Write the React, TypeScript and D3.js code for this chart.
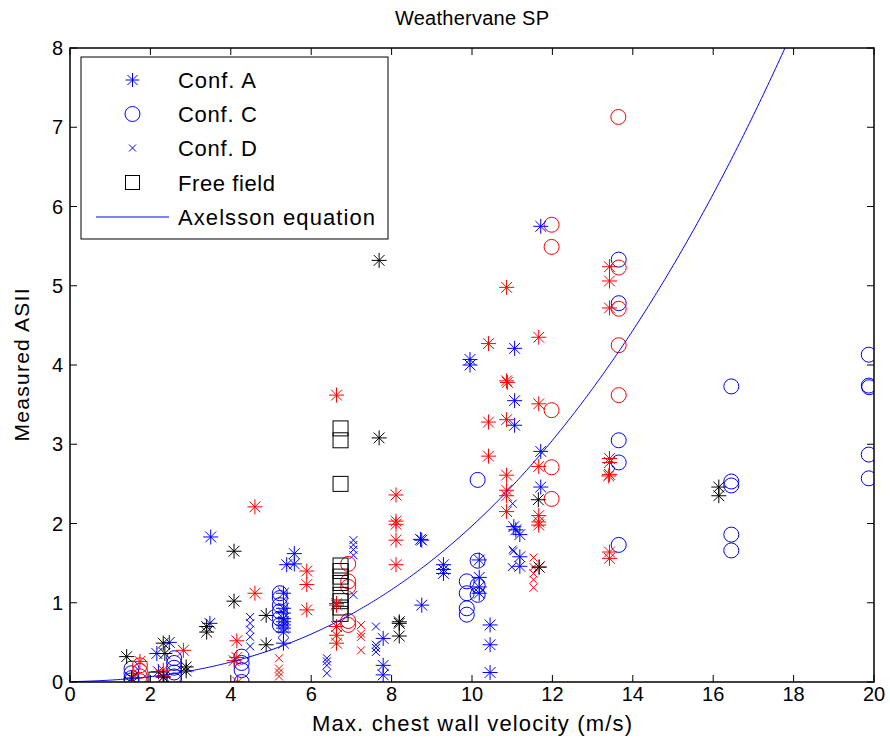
import React from "react";
import * as d3 from "d3";

type Pt = [number, number];

// Axes ticks
const xTickValues = [0, 2, 4, 6, 8, 10, 12, 14, 16, 18, 20];
const yTickValues = [0, 1, 2, 3, 4, 5, 6, 7, 8];

// Conf. A (asterisks), by colour
const confABlue: Pt[] = [
  [11.71, 5.75], [11.06, 4.21], [9.95, 4.07], [9.95, 4.0], [11.06, 3.55], [11.06, 3.24],
  [11.71, 2.91], [11.71, 2.46], [3.5, 1.83], [5.39, 1.48], [5.58, 1.62], [5.58, 1.49],
  [3.48, 0.74], [5.31, 0.49], [2.47, 0.5], [2.16, 0.36], [2.2, 0.13],
  [5.31, 1.12], [5.31, 0.93], [5.31, 0.87], [5.31, 0.8], [5.31, 0.76], [5.31, 0.72], [5.31, 0.68], [5.31, 0.63],
  [8.75, 1.79], [8.72, 1.8], [9.29, 1.48], [9.29, 1.42], [9.29, 1.37],
  [7.79, 0.55], [7.79, 0.21], [7.79, 0.09], [8.75, 0.97],
  [11.04, 1.96], [11.09, 1.92], [11.19, 1.86], [11.19, 1.58], [11.19, 1.46],
  [10.18, 1.54], [10.18, 1.32], [10.18, 1.2], [10.18, 1.12],
  [10.45, 0.72], [10.45, 0.47], [10.45, 0.12],
];
const confARed: Pt[] = [
  [10.86, 4.98], [13.42, 5.24], [13.42, 5.06], [13.42, 4.72], [11.66, 4.35], [10.41, 4.27],
  [10.86, 3.8], [10.88, 3.78], [11.66, 3.51], [10.41, 3.28], [10.86, 3.31], [10.41, 2.85],
  [13.42, 2.82], [13.42, 2.77], [13.42, 2.62], [13.4, 2.6], [11.66, 2.72], [10.86, 2.61],
  [10.86, 2.42], [10.86, 2.35], [10.86, 2.15], [11.66, 2.1], [11.66, 2.02], [11.66, 1.98],
  [8.11, 2.36], [8.11, 2.03], [8.11, 1.99], [8.11, 1.79], [8.11, 1.48],
  [13.42, 1.64], [13.42, 1.56], [11.67, 1.45],
  [6.63, 3.62], [4.6, 2.21], [5.89, 1.4], [5.89, 1.23], [5.89, 0.91], [4.6, 1.12],
  [4.15, 0.52], [4.15, 0.31], [4.08, 0.27], [4.17, 0.0],
  [6.63, 0.99], [6.63, 0.97], [6.63, 0.7], [6.63, 0.59], [6.63, 0.49],
  [1.74, 0.26], [2.82, 0.4], [2.32, 0.15], [2.32, 0.07],
];
const confABlack: Pt[] = [
  [7.69, 5.32], [7.69, 3.08], [16.14, 2.46], [16.14, 2.35], [11.65, 2.3], [11.67, 1.45],
  [4.08, 1.65], [4.08, 1.02], [4.88, 0.84], [4.88, 0.47], [3.4, 0.7], [3.4, 0.63],
  [8.19, 0.76], [8.19, 0.74], [8.19, 0.58], [1.41, 0.32], [1.53, 0.05],
  [2.32, 0.49], [2.36, 0.36], [2.32, 0.06], [2.89, 0.19], [2.89, 0.14],
];

// Conf. C (circles)
const confCBlue: Pt[] = [
  [13.65, 5.33], [13.65, 4.78], [13.65, 3.05], [13.65, 2.77], [13.65, 1.73], [10.14, 2.55],
  [19.87, 4.13], [19.87, 3.74], [19.88, 3.72], [16.45, 3.73], [19.87, 2.87], [19.87, 2.57],
  [16.45, 2.53], [16.45, 2.48], [16.45, 1.86], [16.45, 1.66],
  [9.87, 1.27], [9.87, 1.12], [9.87, 0.93], [9.87, 0.85], [10.14, 1.53], [10.14, 1.22], [10.14, 1.1],
  [5.22, 1.12], [5.22, 1.06], [5.22, 0.97], [5.22, 0.89], [5.22, 0.8], [5.22, 0.72],
  [4.27, 0.32], [4.27, 0.24], [4.27, 0.15], [4.27, 0.0],
  [1.53, 0.17], [1.53, 0.11], [1.53, 0.05], [1.53, 0.02],
  [2.59, 0.3], [2.59, 0.24], [2.59, 0.18], [2.59, 0.12], [2.59, 0.07], [2.59, 0.02],
];
const confCRed: Pt[] = [
  [13.64, 7.13], [11.98, 5.77], [11.98, 5.49], [13.65, 5.23], [13.65, 4.71], [13.65, 4.25],
  [13.65, 3.62], [11.98, 3.43], [11.98, 2.71], [11.98, 2.31],
  [6.92, 1.49], [6.92, 1.27], [6.92, 1.2], [6.92, 0.77], [6.92, 0.72],
  [1.74, 0.21], [1.74, 0.14], [1.74, 0.07], [1.74, 0.01],
];

// Conf. D (crosses)
const confDBlue: Pt[] = [
  [11.01, 2.25], [11.01, 1.67], [11.03, 1.65], [10.99, 1.45],
  [4.48, 0.82], [4.48, 0.74], [4.48, 0.66], [4.48, 0.57], [4.48, 0.45],
  [6.39, 0.3], [6.39, 0.26], [6.39, 0.21], [6.39, 0.11],
  [7.05, 1.79], [7.05, 1.73], [7.05, 1.67], [7.05, 1.6], [7.05, 1.1],
  [7.61, 0.7], [7.61, 0.47], [7.61, 0.43], [7.61, 0.38],
];
const confDRed: Pt[] = [
  [5.2, 0.3], [5.2, 0.17], [5.2, 0.12], [5.2, 0.07],
  [7.24, 0.72], [7.24, 0.61], [7.24, 0.57], [7.24, 0.4],
  [11.53, 1.57], [11.53, 1.45], [11.53, 1.37], [11.53, 1.29], [11.53, 1.19],
];

// Free field (squares)
const freeField: Pt[] = [
  [6.73, 3.2], [6.73, 3.05], [6.73, 2.5], [6.73, 1.47], [6.73, 1.4], [6.73, 1.33],
  [6.73, 1.25], [6.73, 1.1], [6.73, 1.02], [6.73, 0.94], [6.73, 0.86], [2.15, 0.03],
];

// Legend entries and their text widths
const legendLabels = ["Conf. A", "Conf. C", "Conf. D", "Free field", "Axelsson equation"];
const legendWidths = [78, 79, 79, 97, 197];

// Axelsson equation: ASII = (0.124 + 0.117 V)^2.63
const axelssonV = d3.range(0, 18.01, 0.05);
const axelsson = (v: number) => Math.pow(0.124 + 0.117 * v, 2.63);

const BLUE = "#0000ff";
const RED = "#ff0000";
const BLACK = "#000000";
const FONT = "'Liberation Sans', Arial, Helvetica, sans-serif";

const starPath = (cx: number, cy: number, r = 7.5) => {
  const d = r * 0.72;
  return `M${cx - r},${cy}H${cx + r}M${cx},${cy - r}V${cy + r}M${cx - d},${cy - d}L${cx + d},${cy + d}M${cx - d},${cy + d}L${cx + d},${cy - d}`;
};
const crossPath = (cx: number, cy: number, r = 4) =>
  `M${cx - r},${cy - r}L${cx + r},${cy + r}M${cx - r},${cy + r}L${cx + r},${cy - r}`;

export default function App() {
  const left = 70, right = 874, top = 48, bottom = 682;
  const x = d3.scaleLinear().domain([0, 20]).range([left, right]);
  const y = d3.scaleLinear().domain([0, 8]).range([bottom, top]);

  const line = d3
    .line<number>()
    .x((v) => x(v))
    .y((v) => y(axelsson(v)));

  const stars = (pts: Pt[], color: string, key: string) => (
    <path key={key} d={pts.map(([a, b]) => starPath(x(a), y(b))).join("")} stroke={color} strokeWidth={1} fill="none" />
  );
  const circles = (pts: Pt[], color: string, key: string) => (
    <g key={key}>
      {pts.map(([a, b], i) => (
        <circle key={i} cx={x(a)} cy={y(b)} r={7.5} stroke={color} strokeWidth={1} fill="none" />
      ))}
    </g>
  );
  const crosses = (pts: Pt[], color: string, key: string) => (
    <path key={key} d={pts.map(([a, b]) => crossPath(x(a), y(b))).join("")} stroke={color} strokeWidth={1} fill="none" />
  );
  const squares = (pts: Pt[], color: string, key: string) => (
    <g key={key}>
      {pts.map(([a, b], i) => (
        <rect key={i} x={x(a) - 7.5} y={y(b) - 7.5} width={15} height={15} stroke={color} strokeWidth={1} fill="none" />
      ))}
    </g>
  );

  const tickLen = 7;
  const legendX = 81, legendY = 57, legendW = 307, legendH = 182;
  const rowY = [80, 114, 148, 182.5, 217];
  const mx = 132.5, tx = 178;

  return (
    <svg width={890} height={751} style={{ position: "absolute", left: 0, top: 0, background: "#fff" }} fontFamily={FONT}>
      <rect x={0} y={0} width={890} height={751} fill="#fff" />
      <defs>
        <clipPath id="plotClip">
          <rect x={left} y={top} width={right - left} height={bottom - top} />
        </clipPath>
      </defs>

      {/* ticks on all four sides */}
      <g stroke="#000" strokeWidth={1}>
        {xTickValues.map((t) => (
          <g key={`xt${t}`}>
            <line x1={x(t)} x2={x(t)} y1={bottom} y2={bottom - tickLen} />
            <line x1={x(t)} x2={x(t)} y1={top} y2={top + tickLen} />
          </g>
        ))}
        {yTickValues.map((t) => (
          <g key={`yt${t}`}>
            <line x1={left} x2={left + tickLen} y1={y(t)} y2={y(t)} />
            <line x1={right} x2={right - tickLen} y1={y(t)} y2={y(t)} />
          </g>
        ))}
      </g>

      {/* data */}
      <g clipPath="url(#plotClip)">
        {crosses(confDBlue, BLUE, "db")}
        {crosses(confDRed, RED, "dr")}
        {circles(confCBlue, BLUE, "cb")}
        {circles(confCRed, RED, "cr")}
        {squares(freeField, BLACK, "ff")}
        {stars(confABlue, BLUE, "ab")}
        {stars(confARed, RED, "ar")}
        {stars(confABlack, BLACK, "ak")}
        <path d={line(axelssonV) ?? ""} stroke={BLUE} strokeWidth={1} fill="none" />
      </g>

      {/* axes box */}
      <rect x={left} y={top} width={right - left} height={bottom - top} fill="none" stroke="#000" strokeWidth={1.5} />

      {/* tick labels */}
      <g fontSize={20} fill="#000">
        {xTickValues.map((t) => (
          <text key={`xl${t}`} x={x(t)} y={bottom + 19} textAnchor="middle">{t}</text>
        ))}
        {yTickValues.map((t) => (
          <text key={`yl${t}`} x={left - 7} y={y(t) + 7} textAnchor="end">{t}</text>
        ))}
      </g>

      {/* titles */}
      <text x={(left + right) / 2} y={25} textAnchor="middle" fontSize={20} textLength={154} lengthAdjust="spacing">Weathervane SP</text>
      <text x={(left + right) / 2} y={731} textAnchor="middle" fontSize={22} textLength={320} lengthAdjust="spacing">Max. chest wall velocity (m/s)</text>
      <text transform={`translate(29,${(top + bottom) / 2}) rotate(-90)`} textAnchor="middle" fontSize={21} textLength={153} lengthAdjust="spacing">Measured ASII</text>

      {/* legend */}
      <g>
        <rect x={legendX} y={legendY} width={legendW} height={legendH} fill="#fff" stroke="#000" strokeWidth={1} />
        <path d={starPath(mx, rowY[0], 7)} stroke={BLUE} fill="none" />
        <circle cx={mx} cy={rowY[1]} r={7.5} stroke={BLUE} fill="none" />
        <path d={crossPath(mx, rowY[2], 3.5)} stroke={BLUE} fill="none" />
        <rect x={mx - 7} y={rowY[3] - 7} width={14} height={14} stroke={BLACK} fill="none" />
        <line x1={96} x2={169} y1={rowY[4]} y2={rowY[4]} stroke={BLUE} />
        <g fontSize={22} fill="#000">
          {legendLabels.map((s, i) => (
            <text key={s} x={tx} y={rowY[i] + 8} textLength={legendWidths[i]} lengthAdjust="spacing">{s}</text>
          ))}
        </g>
      </g>
    </svg>
  );
}
